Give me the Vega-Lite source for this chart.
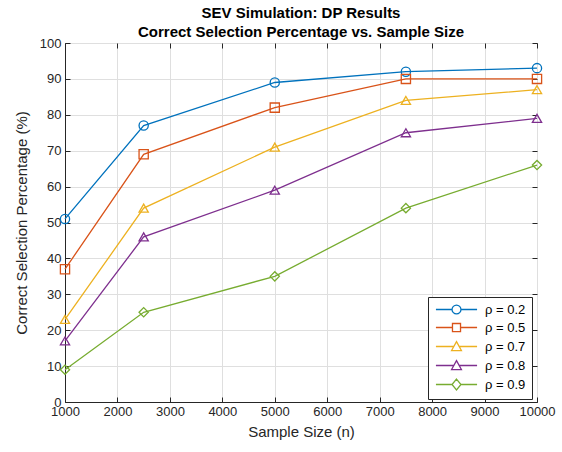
{
  "$schema": "https://vega.github.io/schema/vega-lite/v6.json",
  "autosize": {"type": "none"},
  "width": 472,
  "height": 359,
  "padding": {"left": 65, "top": 43, "right": 25, "bottom": 50},
  "background": "white",
  "config": {
    "font": "Liberation Sans",
    "view": {"stroke": "#262626", "strokeWidth": 1},
    "axis": {
      "labelFont": "Liberation Sans",
      "labelFontSize": 13,
      "labelColor": "#262626",
      "titleFont": "Liberation Sans",
      "titleFontSize": 15,
      "titleFontWeight": "normal",
      "titleColor": "#262626",
      "domainColor": "#262626",
      "tickColor": "#262626",
      "gridColor": "#dfdfdf",
      "gridOpacity": 1
    },
    "legend": {
      "title": null,
      "orient": "none",
      "legendX": 363,
      "legendY": 254,
      "padding": 6,
      "strokeColor": "#262626",
      "fillColor": "white",
      "symbolSize": 80,
      "symbolOpacity": 1,
      "symbolStrokeWidth": 1.3,
      "symbolFillColor": "transparent",
      "symbolOffset": 16,
      "labelOffset": 22,
      "labelFont": "Liberation Sans",
      "labelFontSize": 13,
      "labelColor": "#000000",
      "rowPadding": 3
    }
  },
  "title": {
    "text": ["SEV Simulation: DP Results", "Correct Selection Percentage vs. Sample Size"],
    "font": "Liberation Sans",
    "fontSize": 15,
    "fontWeight": "bold",
    "color": "#000000",
    "anchor": "middle",
    "lineHeight": 19,
    "offset": -3
  },
  "data": {
    "values": [
      {"n": 1000, "rho": "ρ = 0.2", "pct": 51},
      {"n": 2500, "rho": "ρ = 0.2", "pct": 77},
      {"n": 5000, "rho": "ρ = 0.2", "pct": 89},
      {"n": 7500, "rho": "ρ = 0.2", "pct": 92},
      {"n": 10000, "rho": "ρ = 0.2", "pct": 93},
      {"n": 1000, "rho": "ρ = 0.5", "pct": 37},
      {"n": 2500, "rho": "ρ = 0.5", "pct": 69},
      {"n": 5000, "rho": "ρ = 0.5", "pct": 82},
      {"n": 7500, "rho": "ρ = 0.5", "pct": 90},
      {"n": 10000, "rho": "ρ = 0.5", "pct": 90},
      {"n": 1000, "rho": "ρ = 0.7", "pct": 23},
      {"n": 2500, "rho": "ρ = 0.7", "pct": 54},
      {"n": 5000, "rho": "ρ = 0.7", "pct": 71},
      {"n": 7500, "rho": "ρ = 0.7", "pct": 84},
      {"n": 10000, "rho": "ρ = 0.7", "pct": 87},
      {"n": 1000, "rho": "ρ = 0.8", "pct": 17},
      {"n": 2500, "rho": "ρ = 0.8", "pct": 46},
      {"n": 5000, "rho": "ρ = 0.8", "pct": 59},
      {"n": 7500, "rho": "ρ = 0.8", "pct": 75},
      {"n": 10000, "rho": "ρ = 0.8", "pct": 79},
      {"n": 1000, "rho": "ρ = 0.9", "pct": 9},
      {"n": 2500, "rho": "ρ = 0.9", "pct": 25},
      {"n": 5000, "rho": "ρ = 0.9", "pct": 35},
      {"n": 7500, "rho": "ρ = 0.9", "pct": 54},
      {"n": 10000, "rho": "ρ = 0.9", "pct": 66}
    ]
  },
  "layer": [
    {
      "encoding": {
        "x": {
          "field": "n",
          "type": "quantitative",
          "scale": {"domain": [1000, 10000], "nice": false, "zero": false},
          "axis": {
            "title": "Sample Size (n)",
            "values": [1000, 2000, 3000, 4000, 5000, 6000, 7000, 8000, 9000, 10000],
            "format": "d",
            "tickSize": -5,
            "labelPadding": 8,
            "titlePadding": 6,
            "labelFlush": false,
            "labelOverlap": false
          }
        },
        "y": {
          "field": "pct",
          "type": "quantitative",
          "scale": {"domain": [0, 100], "nice": false},
          "axis": {
            "title": "Correct Selection Percentage (%)",
            "values": [0, 10, 20, 30, 40, 50, 60, 70, 80, 90, 100],
            "tickSize": -5,
            "labelPadding": 9,
            "titlePadding": 10,
            "labelFlush": false
          }
        }
      },
      "layer": [
        {
          "mark": {"type": "line", "strokeWidth": 1.3},
          "encoding": {
            "color": {
              "field": "rho",
              "type": "nominal",
              "scale": {
                "domain": ["ρ = 0.2", "ρ = 0.5", "ρ = 0.7", "ρ = 0.8", "ρ = 0.9"],
                "range": ["#0072BD", "#D95319", "#EDB120", "#7E2F8E", "#77AC30"]
              },
              "legend": null
            }
          }
        },
        {
          "mark": {"type": "point", "filled": false, "strokeWidth": 1.3, "size": 85, "opacity": 1},
          "encoding": {
            "color": {"field": "rho", "type": "nominal", "legend": null},
            "shape": {
              "field": "rho",
              "type": "nominal",
              "scale": {
                "domain": ["ρ = 0.2", "ρ = 0.5", "ρ = 0.7", "ρ = 0.8", "ρ = 0.9"],
                "range": ["circle", "square", "triangle-up", "triangle-up", "diamond"]
              },
              "legend": null
            }
          }
        },
        {
          "mark": {"type": "point", "filled": false, "strokeWidth": 1.3, "size": 80, "opacity": 0},
          "encoding": {
            "stroke": {
              "field": "rho",
              "type": "nominal",
              "scale": {
                "domain": ["ρ = 0.2", "ρ = 0.5", "ρ = 0.7", "ρ = 0.8", "ρ = 0.9"],
                "range": ["#0072BD", "#D95319", "#EDB120", "#7E2F8E", "#77AC30"]
              },
              "legend": {"symbolStrokeColor": "#262626"}
            },
            "shape": {
              "field": "rho",
              "type": "nominal",
              "scale": {
                "domain": ["ρ = 0.2", "ρ = 0.5", "ρ = 0.7", "ρ = 0.8", "ρ = 0.9"],
                "range": [
                  "M-4.6,0H-1M1,0H4.6M1,0A1,1 0 1 1 -1,0A1,1 0 1 1 1,0",
                  "M-4.6,0H-0.9M0.9,0H4.6M-0.9,-0.9H0.9V0.9H-0.9Z",
                  "M-4.6,0H-0.6M0.6,0H4.6M0,-1.1L1.1,0.9H-1.1Z",
                  "M-4.6,0H-0.6M0.6,0H4.6M0,-1.1L1.1,0.9H-1.1Z",
                  "M-4.6,0H-1M1,0H4.6M0,-1.2L1,0L0,1.2L-1,0Z"
                ]
              },
              "legend": {"symbolStrokeColor": "#262626"}
            }
          }
        }
      ],
      "resolve": {"scale": {"shape": "independent", "stroke": "independent"}}
    },
    {
      "mark": {"type": "point", "opacity": 0},
      "encoding": {
        "x": {
          "field": "n",
          "type": "quantitative",
          "scale": {"domain": [1000, 10000], "nice": false, "zero": false},
          "axis": {
            "orient": "top",
            "title": null,
            "labels": false,
            "domain": false,
            "grid": false,
            "values": [1000, 2000, 3000, 4000, 5000, 6000, 7000, 8000, 9000, 10000],
            "tickSize": -5
          }
        },
        "y": {
          "field": "pct",
          "type": "quantitative",
          "scale": {"domain": [0, 100], "nice": false},
          "axis": {
            "orient": "right",
            "title": null,
            "labels": false,
            "domain": false,
            "grid": false,
            "values": [0, 10, 20, 30, 40, 50, 60, 70, 80, 90, 100],
            "tickSize": -5
          }
        }
      }
    }
  ],
  "resolve": {"axis": {"x": "independent", "y": "independent"}, "scale": {"shape": "independent", "stroke": "independent"}}
}
